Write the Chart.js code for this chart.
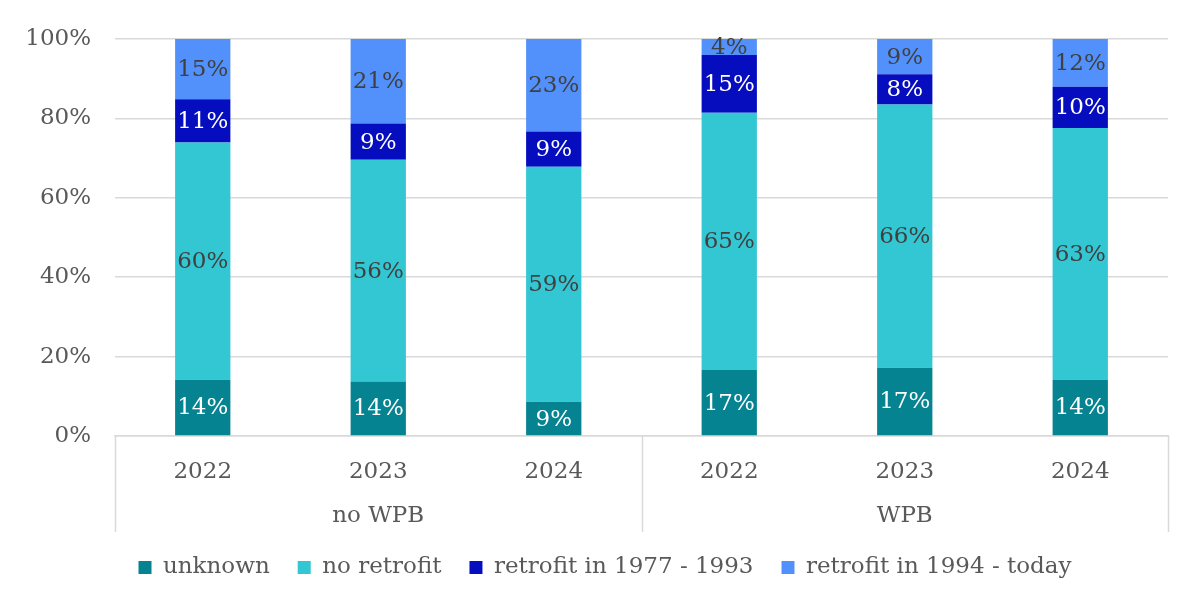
<!DOCTYPE html>
<html>
<head>
<meta charset="utf-8">
<script src="https://cdn.jsdelivr.net/npm/chart.js@4/dist/chart.umd.min.js"></script>
<style>
html,body{margin:0;padding:0;background:#fff;}
#wrap{width:1200px;height:611px;position:relative;}
</style>
</head>
<body>
<div id="wrap"><canvas id="c"></canvas></div>
<script>
const years = ['2022','2023','2024','2022','2023','2024'];
const groups = ['no WPB','WPB'];
const groupSize = 3;
const unknown      = [14.2, 13.7, 8.6, 16.6, 17.2, 14.2];
const noRetrofit   = [59.7, 55.9, 59.2, 64.8, 66.3, 63.4];
const retro7793    = [10.9, 9.1, 8.9, 14.6, 7.6, 10.4];
const retro94today = [15.2, 21.3, 23.3, 4.0, 8.9, 12.0];
const yTicks = [0, 20, 40, 60, 80, 100];

const FONT = '"DejaVu Serif", serif';
const FS = 23;
const AXIS_COLOR = '#595959';
const GRID = '#d9d9d9';
const SEP_LEN = 96;

const segLabels = {
  id: 'segLabels',
  afterDatasetsDraw(chart) {
    const ctx = chart.ctx;
    ctx.save();
    ctx.font = FS + 'px ' + FONT;
    ctx.textAlign = 'center';
    ctx.textBaseline = 'middle';
    chart.data.datasets.forEach((ds, di) => {
      const meta = chart.getDatasetMeta(di);
      meta.data.forEach((bar, i) => {
        const p = bar.getProps(['x', 'y', 'base'], true);
        ctx.fillStyle = ds.labelColor;
        ctx.fillText(Math.round(ds.data[i]) + '%', p.x, (p.y + p.base) / 2 + 1);
      });
    });
    ctx.restore();
  }
};

const groupAxis = {
  id: 'groupAxis',
  afterDraw(chart) {
    const ctx = chart.ctx;
    const x = chart.scales.x;
    const top = chart.chartArea.bottom;
    const bottom = top + SEP_LEN;
    const half = (x.getPixelForValue(1) - x.getPixelForValue(0)) / 2;
    ctx.save();
    ctx.strokeStyle = GRID;
    ctx.lineWidth = 1.5;
    for (let g = 0; g <= groups.length; g++) {
      const idx = g * groupSize;
      const px = idx < years.length ? x.getPixelForValue(idx) - half : x.getPixelForValue(years.length - 1) + half;
      ctx.beginPath();
      ctx.moveTo(Math.round(px) + 0.5, top);
      ctx.lineTo(Math.round(px) + 0.5, bottom);
      ctx.stroke();
    }
    ctx.fillStyle = AXIS_COLOR;
    ctx.font = FS + 'px ' + FONT;
    ctx.textAlign = 'center';
    ctx.textBaseline = 'middle';
    groups.forEach((gname, g) => {
      const a = x.getPixelForValue(g * groupSize);
      const b = x.getPixelForValue(g * groupSize + groupSize - 1);
      ctx.fillText(gname, (a + b) / 2, top + 80);
    });
    ctx.restore();
  }
};

new Chart(document.getElementById('c'), {
  type: 'bar',
  data: {
    labels: years,
    datasets: [
      { label: 'unknown', data: unknown, backgroundColor: '#068391', labelColor: '#ffffff' },
      { label: 'no retrofit', data: noRetrofit, backgroundColor: '#33C6D3', labelColor: '#404040' },
      { label: 'retrofit in 1977 - 1993', data: retro7793, backgroundColor: '#050DBE', labelColor: '#ffffff' },
      { label: 'retrofit in 1994 - today', data: retro94today, backgroundColor: '#5291FB', labelColor: '#404040' }
    ]
  },
  options: {
    responsive: true,
    maintainAspectRatio: false,
    animation: false,
    devicePixelRatio: 1,
    layout: { padding: { left: 10, right: 0, top: 39, bottom: 22 } },
    datasets: { bar: { categoryPercentage: 1, barPercentage: 0.315 } },
    scales: {
      x: {
        stacked: true,
        grid: { display: false },
        border: { display: true, color: GRID, width: 1.5 },
        ticks: { color: AXIS_COLOR, font: { family: FONT, size: FS }, padding: 14, maxRotation: 0 },
        afterFit(s) { s.height = 92; }
      },
      y: {
        stacked: true,
        min: 0, max: 100,
        afterBuildTicks(s) { s.ticks = yTicks.map(v => ({ value: v })); },
        grid: { color: GRID, lineWidth: 1.5, drawTicks: false },
        border: { display: false },
        ticks: { color: AXIS_COLOR, font: { family: FONT, size: FS }, padding: 24, callback: v => v + '%' },
        afterFit(s) { s.width = 105; }
      },
      yPad: {
        position: 'right',
        min: 0, max: 100,
        grid: { display: false },
        border: { display: false },
        ticks: { display: false },
        afterFit(s) { s.width = 32; }
      }
    },
    plugins: {
      legend: {
        position: 'bottom',
        labels: {
          color: AXIS_COLOR,
          font: { family: FONT, size: FS },
          boxWidth: 13, boxHeight: 13,
          padding: 28
        }
      },
      tooltip: { enabled: false }
    }
  },
  plugins: [segLabels, groupAxis]
});
</script>
</body>
</html>
